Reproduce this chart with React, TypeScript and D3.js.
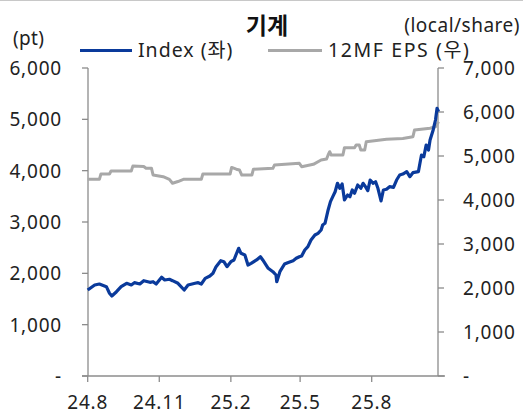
import React from "react";
import * as d3 from "d3";

const indexDates = [
  "2024-08-01","2024-08-10","2024-08-16","2024-08-25","2024-08-29","2024-09-01","2024-09-07","2024-09-13","2024-09-20","2024-09-26","2024-09-30",
  "2024-10-07","2024-10-12","2024-10-20","2024-10-24","2024-10-28","2024-11-04","2024-11-08","2024-11-14","2024-11-18","2024-11-25",
  "2024-12-03","2024-12-08","2024-12-17","2024-12-21","2024-12-25","2024-12-30","2025-01-05","2025-01-09","2025-01-13","2025-01-19",
  "2025-01-23","2025-01-27","2025-02-01","2025-02-05","2025-02-08","2025-02-11","2025-02-14","2025-02-19","2025-02-23","2025-02-27",
  "2025-03-06","2025-03-11","2025-03-14","2025-03-21","2025-03-27","2025-03-31","2025-04-01","2025-04-05","2025-04-11","2025-04-15",
  "2025-04-22","2025-04-26","2025-04-30","2025-05-03","2025-05-07","2025-05-11","2025-05-15","2025-05-20","2025-05-24","2025-05-28",
  "2025-05-30","2025-06-02","2025-06-06","2025-06-09","2025-06-12","2025-06-15","2025-06-18","2025-06-21","2025-06-24","2025-06-27",
  "2025-07-01","2025-07-04","2025-07-07","2025-07-10","2025-07-14","2025-07-18","2025-07-21","2025-07-24","2025-07-27","2025-07-30",
  "2025-08-03","2025-08-06","2025-08-09","2025-08-13","2025-08-16","2025-08-20","2025-08-24","2025-08-29","2025-09-02","2025-09-06",
  "2025-09-10","2025-09-15","2025-09-19","2025-09-23","2025-09-30","2025-10-02","2025-10-04","2025-10-07","2025-10-10","2025-10-13",
  "2025-10-15","2025-10-19","2025-10-22","2025-10-24","2025-10-26"
];
const indexValues = [
  1675,1773,1792,1740,1611,1558,1642,1740,1806,1773,1818,
  1792,1857,1825,1837,1792,1923,1870,1884,1857,1806,
  1675,1773,1806,1818,1792,1903,1948,2001,2130,2246,
  2227,2130,2227,2260,2377,2488,2390,2357,2162,2195,
  2260,2324,2260,2098,2032,1968,1837,2032,2182,2207,
  2246,2293,2324,2338,2455,2519,2650,2747,2780,2844,
  2942,2975,3234,3396,3493,3590,3754,3657,3740,3429,
  3526,3493,3624,3559,3721,3657,3754,3688,3610,3818,
  3754,3785,3657,3410,3624,3637,3688,3676,3818,3916,
  3935,3980,3883,3961,3980,4144,4305,4272,4500,4403,
  4598,4793,4987,5215,5149
];

const epsDates = [
  "2024-08-01","2024-08-16","2024-08-18","2024-08-29","2024-08-31","2024-09-26","2024-09-28","2024-10-12","2024-10-15","2024-10-22",
  "2024-10-24","2024-11-06","2024-11-14","2024-11-18","2024-11-25","2024-12-02","2024-12-25","2024-12-27","2025-01-31","2025-02-02",
  "2025-02-08","2025-02-12","2025-02-15","2025-02-28","2025-03-02","2025-03-27","2025-03-29","2025-04-30","2025-05-03","2025-05-18",
  "2025-05-28","2025-06-04","2025-06-06","2025-06-08","2025-06-10","2025-06-25","2025-06-27","2025-07-10","2025-07-12","2025-07-16",
  "2025-07-18","2025-07-23","2025-07-25","2025-08-20","2025-09-10","2025-09-23","2025-09-25","2025-10-15","2025-10-22","2025-10-26"
];
const epsValues = [
  4470,4470,4590,4590,4660,4660,4770,4760,4720,4720,
  4570,4530,4470,4380,4420,4470,4470,4590,4590,4740,
  4700,4682,4568,4568,4700,4720,4795,4834,4757,4811,
  4909,4930,5023,5098,5023,5023,5189,5189,5250,5250,
  5136,5136,5325,5380,5400,5439,5590,5630,5665,5780
];

const xTickDates = ["2024-08-01","2024-11-01","2025-02-01","2025-05-01","2025-08-01"];
const xTickLabels = ["24.8","24.11","25.2","25.5","25.8"];
const leftTicks = [0,1000,2000,3000,4000,5000,6000];
const rightTicks = [0,1000,2000,3000,4000,5000,6000,7000];

const title = "기계";
const leftUnit = "(pt)";
const rightUnit = "(local/share)";
const seriesNames = ["Index (좌)", "12MF EPS (우)"];

const parse = d3.timeParse("%Y-%m-%d");
const FONT = "'Noto Sans', 'Noto Sans CJK KR', sans-serif";
const BLUE = "#0a3a9b";
const GRAY = "#a8a8a8";
const AXIS = "#8c8c8c";

export default function App() {
  const W = 523, H = 414;
  const x = d3.scaleTime()
    .domain([parse("2024-08-01")!, parse("2025-08-01")!])
    .range([87.7, 371.7]);
  const yL = d3.scaleLinear().domain([0, 6000]).range([376, 68]);
  const yR = d3.scaleLinear().domain([0, 7000]).range([376, 68]);

  const idx = indexDates.map((d, i) => ({ d: parse(d)!, v: indexValues[i] }));
  const eps = epsDates.map((d, i) => ({ d: parse(d)!, v: epsValues[i] }));

  const lineL = d3.line<{ d: Date; v: number }>().x(p => x(p.d)).y(p => yL(p.v));
  const lineR = d3.line<{ d: Date; v: number }>().x(p => x(p.d)).y(p => yR(p.v));
  const fmt = (v: number) => (v === 0 ? "-" : d3.format(",")(v));

  const xL = 88, xR = 438, yB = 376;
  const numStyle = { fontFamily: FONT, fontSize: 19, fill: "#222", letterSpacing: 0.8 } as const;
  const legStyle = { fontFamily: FONT, fontSize: 19.5, fill: "#222", letterSpacing: 1 } as const;

  return (
    <svg width={W} height={H} style={{ position: "absolute", left: 0, top: 0, background: "#fff" }}>
      <rect x={0} y={0} width={W} height={H} fill="#fff" />
      <line x1={0} x2={W} y1={0.5} y2={0.5} stroke="#c8c8c8" />
      <text x={267} y={34} textAnchor="middle" style={{ fontFamily: "'Noto Sans CJK KR', sans-serif", fontSize: 23, fontWeight: 700, fill: "#111" }}>{title}</text>
      <text x={13} y={45} style={{ ...numStyle, letterSpacing: 0.3 }}>{leftUnit}</text>
      <text x={520} y={32} textAnchor="end" style={{ ...numStyle, letterSpacing: 0.5 }}>{rightUnit}</text>

      <line x1={80} x2={132} y1={50.5} y2={50.5} stroke={BLUE} strokeWidth={3} />
      <text x={138} y={57} style={legStyle}>{seriesNames[0]}</text>
      <line x1={268} x2={322} y1={50.5} y2={50.5} stroke={GRAY} strokeWidth={3} />
      <text x={328} y={57} style={{ ...legStyle, letterSpacing: 1.6 }}>{seriesNames[1]}</text>

      {/* left axis */}
      <line x1={xL} x2={xL} y1={yL(6000)} y2={yB} stroke={AXIS} strokeWidth={1.3} />
      {leftTicks.map(t => (
        <g key={"l" + t}>
          <line x1={xL - 6} x2={xL} y1={yL(t)} y2={yL(t)} stroke={AXIS} strokeWidth={1.3} />
          <text x={62} y={yL(t) + 7} textAnchor="end" style={numStyle}>{fmt(t)}</text>
        </g>
      ))}
      {/* right axis */}
      <line x1={xR} x2={xR} y1={yR(7000)} y2={yB} stroke={AXIS} strokeWidth={1.3} />
      {rightTicks.map(t => (
        <g key={"r" + t}>
          <line x1={xR} x2={xR + 6} y1={yR(t)} y2={yR(t)} stroke={AXIS} strokeWidth={1.3} />
          <text x={463} y={yR(t) + 7} textAnchor="start" style={numStyle}>{fmt(t)}</text>
        </g>
      ))}
      {/* bottom axis */}
      <line x1={82} x2={445} y1={yB} y2={yB} stroke={AXIS} strokeWidth={1.3} />
      {xTickDates.map((d, i) => {
        const px = x(parse(d)!);
        return (
          <g key={"x" + d}>
            <line x1={px} x2={px} y1={yB} y2={yB + 6} stroke={AXIS} strokeWidth={1.3} />
            <text x={px} y={409} textAnchor="middle" style={numStyle}>{xTickLabels[i]}</text>
          </g>
        );
      })}

      <path d={lineR(eps)!} fill="none" stroke={GRAY} strokeWidth={3} strokeLinejoin="round" />
      <path d={lineL(idx)!} fill="none" stroke={BLUE} strokeWidth={3.2} strokeLinejoin="round" />
    </svg>
  );
}
